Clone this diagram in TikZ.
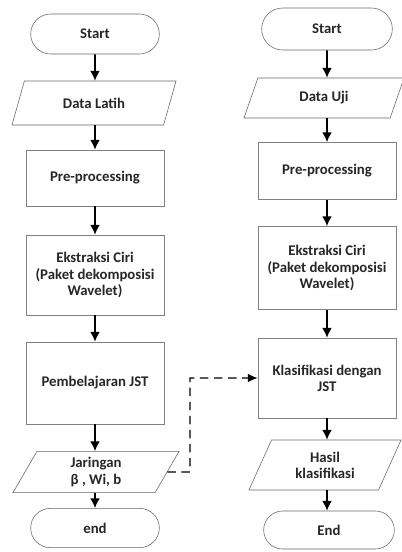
\documentclass[tikz,border=0pt]{standalone}
\usepackage{fontspec}
\setmainfont{Carlito}
\usetikzlibrary{arrows.meta,positioning,shapes.geometric,shapes.misc}

\begin{document}
\begin{tikzpicture}[x=0.025cm,y=-0.025cm,
    term/.style={rounded rectangle,draw=black!60,text=black!85,font=\bfseries\fontsize{10.5}{11.5}\selectfont,minimum width=3.45cm,minimum height=1cm},
    proc/.style={rectangle,draw=black!50,text=black!85,font=\bfseries\fontsize{10.5}{11.5}\selectfont,align=center,minimum width=3.45cm},
    io/.style={trapezium,trapezium left angle=58,trapezium right angle=122,trapezium stretches body,draw=black!60,text=black!85,font=\bfseries\fontsize{10.5}{11.5}\selectfont,align=center},
    flow/.style={-{Latex[length=7pt,width=7pt]},line width=1.1pt},
    link/.style={-{Latex[length=7pt,width=6pt]},line width=0.8pt,dash pattern=on 6pt off 4pt}]
    \useasboundingbox (0,0) rectangle (401,552);

    \node[term] (startL) at (95,34) {Start};
    \node[io,minimum width=4.1cm,minimum height=1.1cm] (dataL) at (94,103) {Data Latih};
    \node[proc,minimum height=1.4cm] (preL) at (95,178) {Pre-processing};
    \node[proc,minimum height=2cm] (ekstL) at (95,275) {Ekstraksi Ciri\\(Paket dekomposisi\\Wavelet)};
    \node[proc,minimum height=2.05cm] (pembL) at (95,383) {Pembelajaran JST};
    \node[io,minimum width=4.15cm,minimum height=1.03cm] (jarL) at (96,472) {Jaringan\\β , Wi, b};
    \node[term,minimum height=0.98cm] (endL) at (95,528) {end};

    \node[term,minimum width=3.5cm,minimum height=1.05cm] (startR) at (327,29) {Start};
    \node[io,minimum width=4cm,minimum height=1cm] (dataR) at (324,98) {Data Uji};
    \node[proc,minimum height=1.43cm] (preR) at (327,171) {Pre-processing};
    \node[proc,minimum height=2.08cm] (ekstR) at (327,268) {Ekstraksi Ciri\\(Paket dekomposisi\\Wavelet)};
    \node[proc,minimum height=2cm] (klasR) at (327,378) {Klasifikasi dengan\\JST};
    \node[io,minimum width=3.8cm,minimum height=1.25cm] (hasilR) at (325,465) {Hasil\\klasifikasi};
    \node[term,minimum width=3.5cm,minimum height=0.95cm] (endR) at (329,530) {End};

    \draw[flow] (startL) -- (startL |- dataL.north);
    \draw[flow] (startL |- dataL.south) -- (preL);
    \draw[flow] (preL) -- (ekstL);
    \draw[flow] (ekstL) -- (pembL);
    \draw[flow] (pembL) -- (pembL |- jarL.north);
    \draw[flow] (pembL |- jarL.south) -- (endL);

    \draw[flow] (startR) -- (startR |- dataR.north);
    \draw[flow] (startR |- dataR.south) -- (preR);
    \draw[flow] (preR) -- (ekstR);
    \draw[flow] (ekstR) -- (klasR);
    \draw[flow] (klasR) -- (klasR |- hasilR.north);
    \draw[flow] (klasR |- hasilR.south) -- (klasR |- endR.north);

    \coordinate (turn) at (190,472);
    \draw[link] (jarL.east) -- (turn) |- (klasR.west);
\end{tikzpicture}
\end{document}
